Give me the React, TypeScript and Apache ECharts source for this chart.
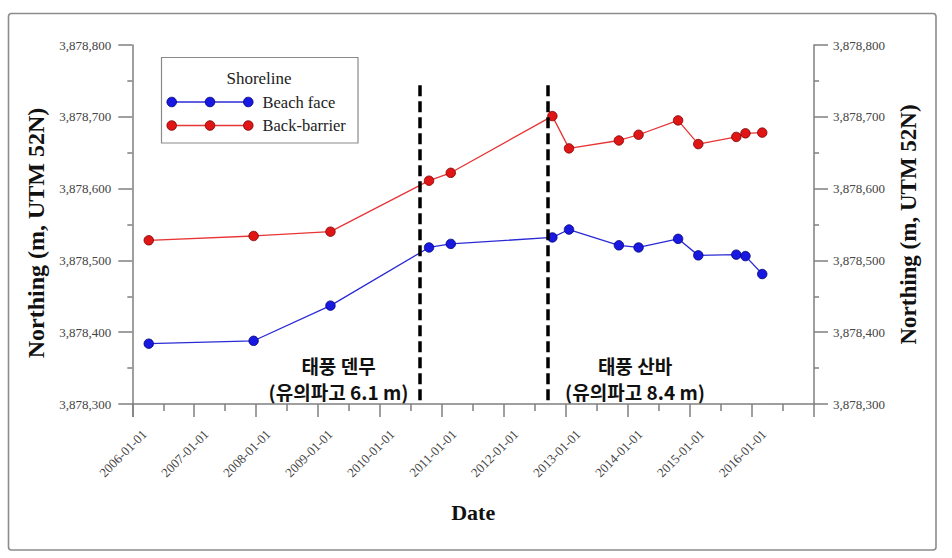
import React, { useEffect, useRef } from "react";
import * as echarts from "echarts";

// ---- data ----
const surveyDates = [
  "2006-04-08", "2007-12-17", "2009-03-14", "2010-10-16", "2011-02-21",
  "2012-10-12", "2013-01-18", "2013-11-08", "2014-03-04", "2014-10-23",
  "2015-02-19", "2015-10-01", "2015-11-24", "2016-03-02",
];
const beachFace = [
  3878384, 3878388, 3878437, 3878518, 3878523,
  3878532, 3878543, 3878521, 3878518, 3878530,
  3878507, 3878508, 3878506, 3878481,
];
const backBarrier = [
  3878528, 3878534, 3878540, 3878611, 3878622,
  3878701, 3878656, 3878667, 3878675, 3878695,
  3878662, 3878672, 3878677, 3878678,
];
const typhoonDates = ["2010-08-20", "2012-09-17"];
const typhoonNames = ["태풍 덴무", "태풍 산바"];
const typhoonWaves = ["(유의파고 6.1 m)", "(유의파고 8.4 m)"];
const typhoonLineTop = 3878744;
const yMin = 3878300;
const yMax = 3878800;
const xMin = "2006-01-01";
const xMax = "2017-01-01";
const seriesNames = ["Beach face", "Back-barrier"];
const legendTitle = "Shoreline";

const SERIF = "'Liberation Serif', 'Times New Roman', serif";
const KR = "'Noto Sans CJK KR', sans-serif";

const BLUE = "#1818e0";
const BLUE_LINE = "#2b2bd6";
const BLUE_BORDER = "#00007a";
const RED = "#e01515";
const RED_LINE = "#e83535";
const RED_BORDER = "#7a0000";
const AXIS = "#7f7f7f";

function fmtNum(v: number) {
  return String(Math.round(v)).replace(/\B(?=(\d{3})+(?!\d))/g, ",");
}

function pad(n: number) {
  return n < 10 ? "0" + n : String(n);
}

export default function App() {
  const ref = useRef<HTMLDivElement>(null);
  useEffect(() => {
    if (!ref.current) return;
    const chart = echarts.init(ref.current, null, { renderer: "svg" });

    const yAxisCommon = {
      type: "value" as const,
      min: yMin,
      max: yMax,
      interval: 100,
      splitLine: { show: false },
      axisLine: { show: true, lineStyle: { color: AXIS, width: 1.5 } },
      axisTick: { show: true, length: 14, lineStyle: { color: AXIS, width: 1.5 } },
      minorTick: { show: true, splitNumber: 2, length: 5, lineStyle: { color: AXIS, width: 1.5 } },
      axisLabel: {
        color: "#444",
        fontFamily: SERIF,
        fontSize: 13,
        formatter: (v: number) => fmtNum(v),
      },
      name: "Northing (m, UTM 52N)",
      nameLocation: "middle" as const,
    };

    const legendRows = [
      { name: seriesNames[0], color: BLUE, line: BLUE_LINE, border: BLUE_BORDER, y: 102 },
      { name: seriesNames[1], color: RED, line: RED_LINE, border: RED_BORDER, y: 125.5 },
    ];
    const legendEls: any[] = [
      {
        type: "rect",
        shape: { x: 161.5, y: 57.5, width: 196.5, height: 85.5 },
        style: { fill: "#fff", stroke: "#8a8a8a", lineWidth: 1.2 },
      },
      {
        type: "text",
        x: 259,
        y: 78,
        style: {
          text: legendTitle,
          fontFamily: SERIF,
          fontSize: 17,
          fill: "#222",
          align: "center",
          verticalAlign: "middle",
        },
      },
    ];
    legendRows.forEach((r) => {
      legendEls.push({
        type: "line",
        shape: { x1: 171.7, y1: r.y, x2: 248.3, y2: r.y },
        style: { stroke: r.line, lineWidth: 1.3 },
      });
      [171.7, 210, 248.3].forEach((cx) => {
        legendEls.push({
          type: "circle",
          shape: { cx, cy: r.y, r: 4.8 },
          style: { fill: r.color, stroke: r.border, lineWidth: 0.8 },
        });
      });
      legendEls.push({
        type: "text",
        x: 262.5,
        y: r.y,
        style: {
          text: r.name,
          fontFamily: SERIF,
          fontSize: 16.5,
          fill: "#222",
          align: "left",
          verticalAlign: "middle",
        },
      });
    });

    const annCenters = [338.5, 635];
    const annEls: any[] = [];
    typhoonNames.forEach((n, i) => {
      annEls.push({
        type: "text",
        x: annCenters[i],
        y: 365,
        style: {
          text: n,
          fontFamily: KR,
          fontWeight: "bold",
          fontSize: 19,
          fill: "#111",
          align: "center",
          verticalAlign: "middle",
        },
      });
      annEls.push({
        type: "text",
        x: annCenters[i],
        y: 391,
        style: {
          text: typhoonWaves[i],
          fontFamily: KR,
          fontWeight: "bold",
          fontSize: 19,
          fill: "#111",
          align: "center",
          verticalAlign: "middle",
        },
      });
    });

    const option: any = {
      animation: false,
      backgroundColor: "#fff",
      grid: { left: 132.3, right: 138, top: 45, bottom: 154, containLabel: false },
      xAxis: {
        type: "time",
        min: xMin,
        max: xMax,
        splitNumber: 11,
        minInterval: 365 * 24 * 3600 * 1000,
        maxInterval: 366 * 24 * 3600 * 1000,
        splitLine: { show: false },
        axisLine: { show: true, lineStyle: { color: AXIS, width: 1.5 } },
        axisTick: { show: true, length: 13, lineStyle: { color: AXIS, width: 1.5 } },
        minorTick: { show: true, splitNumber: 2, length: 7, lineStyle: { color: AXIS, width: 1.5 } },
        axisLabel: {
          rotate: 45,
          margin: 16,
          padding: [34, 0, 0, 0],
          color: "#444",
          fontFamily: SERIF,
          fontSize: 13,
          hideOverlap: false,
          showMinLabel: true,
          showMaxLabel: true,
          formatter: (v: number) => {
            const d = new Date(v);
            if (d.getFullYear() >= 2017) return "";
            return d.getFullYear() + "-" + pad(d.getMonth() + 1) + "-" + pad(d.getDate());
          },
        },
        name: "Date",
        nameLocation: "middle",
        nameGap: 97,
        nameTextStyle: {
          fontFamily: SERIF,
          fontWeight: "bold",
          fontSize: 22,
          color: "#111",
        },
      },
      yAxis: [
        {
          ...yAxisCommon,
          position: "left",
          nameGap: 77,
          nameTextStyle: {
            fontFamily: SERIF,
            fontWeight: "bold",
            fontSize: 24,
            color: "#111",
            padding: [0, 17, 0, 0],
          },
          axisLabel: { ...yAxisCommon.axisLabel, margin: 21 },
        },
        {
          ...yAxisCommon,
          position: "right",
          nameGap: 83,
          nameTextStyle: {
            fontFamily: SERIF,
            fontWeight: "bold",
            fontSize: 23,
            color: "#111",
          },
          axisLabel: { ...yAxisCommon.axisLabel, margin: 19 },
        },
      ],
      series: [
        {
          name: seriesNames[0],
          type: "line",
          yAxisIndex: 0,
          data: surveyDates.map((d, i) => [d, beachFace[i]]),
          symbol: "circle",
          symbolSize: 9.5,
          lineStyle: { color: BLUE_LINE, width: 1.3 },
          itemStyle: { color: BLUE, borderColor: BLUE_BORDER, borderWidth: 0.8 },
          z: 3,
          markLine: {
            silent: true,
            symbol: "none",
            label: { show: false },
            lineStyle: { color: "#000", width: 3.5, type: [11, 5] },
            data: typhoonDates.map((d) => [
              { coord: [d, typhoonLineTop] },
              { coord: [d, yMin] },
            ]),
          },
        },
        {
          name: seriesNames[1],
          type: "line",
          yAxisIndex: 0,
          data: surveyDates.map((d, i) => [d, backBarrier[i]]),
          symbol: "circle",
          symbolSize: 9.5,
          lineStyle: { color: RED_LINE, width: 1.3 },
          itemStyle: { color: RED, borderColor: RED_BORDER, borderWidth: 0.8 },
          z: 3,
        },
      ],
      graphic: [
        {
          type: "rect",
          shape: { x: 8.5, y: 13.5, width: 927.5, height: 536.5, r: 3 },
          style: { fill: "none", stroke: "#8c8c8c", lineWidth: 1.6 },
          silent: true,
          z: -1,
        },
        ...legendEls,
        ...annEls,
      ],
    };
    chart.setOption(option);
    return () => chart.dispose();
  }, []);
  return (
    <div
      ref={ref}
      style={{ position: "absolute", left: 0, top: 0, width: 952, height: 558 }}
    />
  );
}
